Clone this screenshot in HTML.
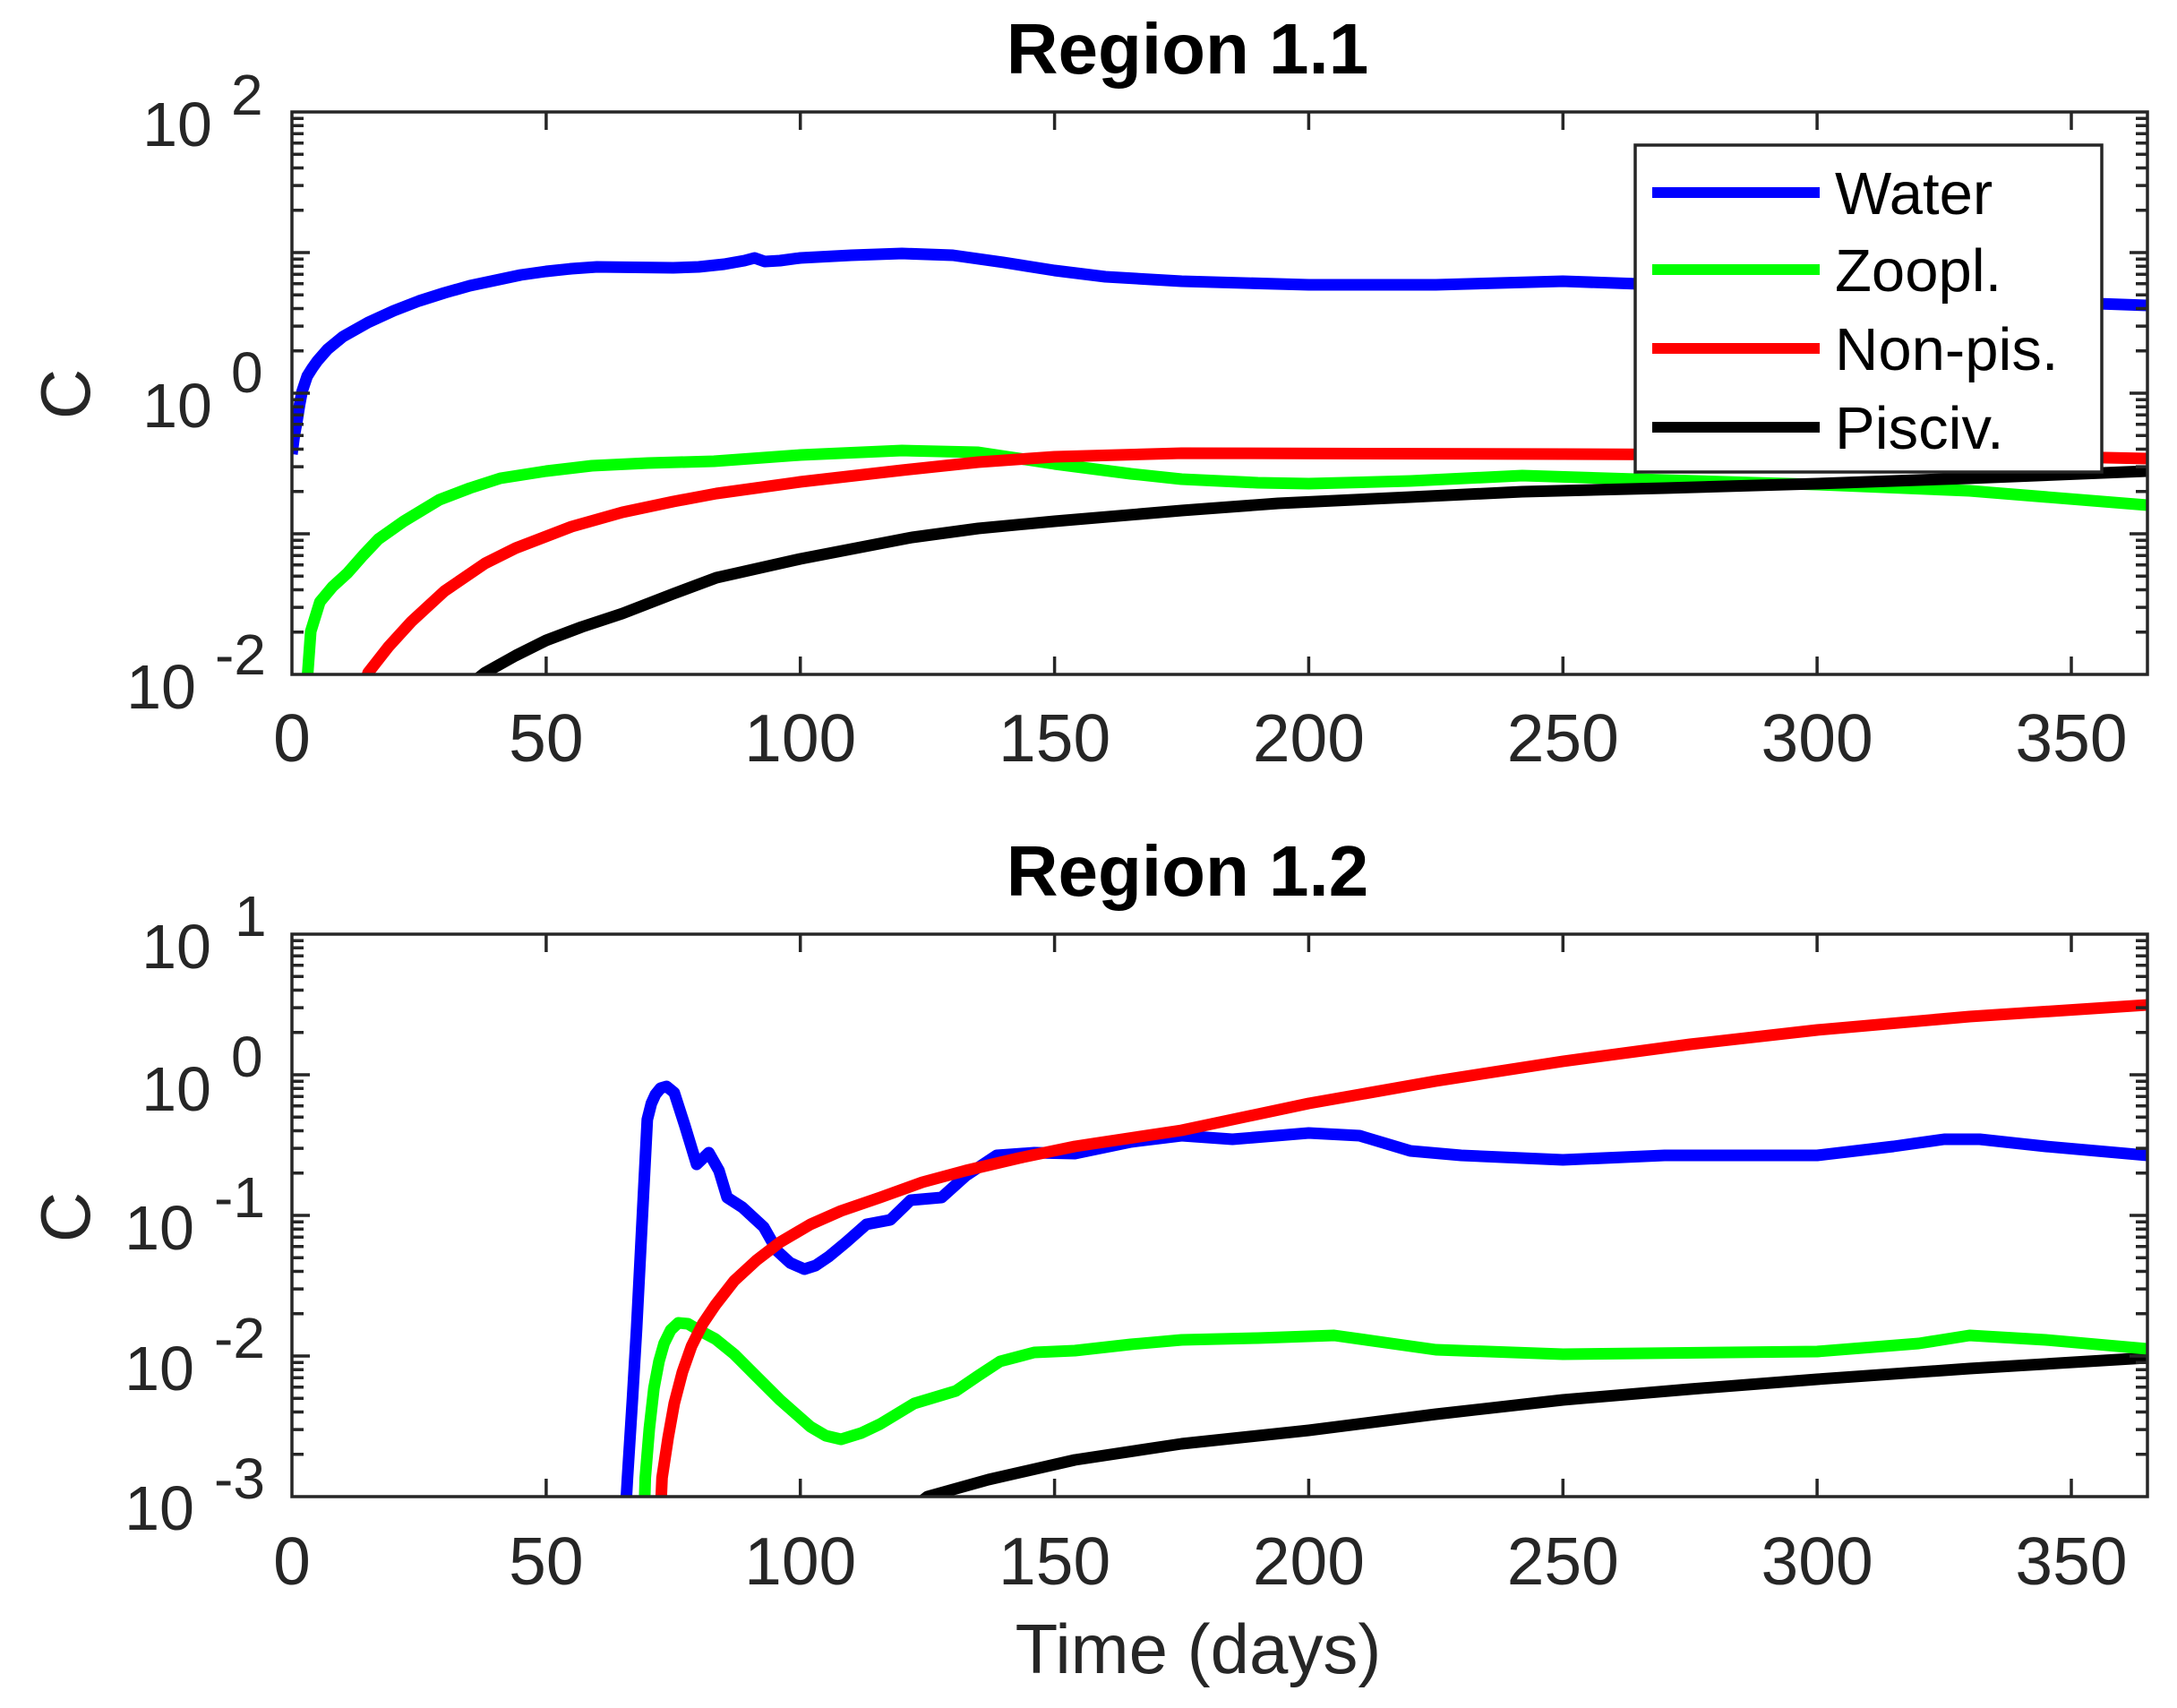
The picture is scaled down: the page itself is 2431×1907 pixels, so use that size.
<!DOCTYPE html>
<html><head><meta charset="utf-8"><style>html,body{margin:0;padding:0;background:#fff}svg{display:block}</style></head>
<body>
<svg width="2431" height="1907" viewBox="0 0 2431 1907" xmlns="http://www.w3.org/2000/svg" font-family="'Liberation Sans', sans-serif">
<defs>
<clipPath id="c1"><rect x="326" y="125" width="2072" height="628"/></clipPath>
<clipPath id="c2"><rect x="326" y="1043" width="2072" height="628"/></clipPath>
<path id="mn" d="M326 -47.3h13M326 -74.9h13M326 -94.5h13M326 -109.7h13M326 -122.2h13M326 -132.7h13M326 -141.8h13M326 -149.8h13M2398 -47.3h-13M2398 -74.9h-13M2398 -94.5h-13M2398 -109.7h-13M2398 -122.2h-13M2398 -132.7h-13M2398 -141.8h-13M2398 -149.8h-13" stroke="#262626" stroke-width="3.5" fill="none"/>
</defs>
<rect width="2431" height="1907" fill="#fff"/>

<!-- ===== Top panel ===== -->
<g clip-path="url(#c1)" fill="none" stroke-linejoin="round" stroke-linecap="butt">
<g transform="matrix(5.677,0,0,1,326,0)">
<polyline vector-effect="non-scaling-stroke" stroke="#00ff00" stroke-width="13" points="3,760 3.7,705 5.5,672 8,655 10.9,640 14,620 17,602 22,582 29,558 35,545 41,534 50,526 59,520 70,517 83,515 100,508 120,503 135,505 150,518 165,529 175,535 190,539 200,540 220,537 242,531 270,536 300,541 330,548 365,564"/>
<polyline vector-effect="non-scaling-stroke" stroke="#ff0000" stroke-width="13" points="14.5,760 15,751 19,722 23.5,694 30,660 38,629 44,612 49.5,600 55,588 65,572 75,560 83.5,551 100,538 120,525 135,516 150,510 175,506 250,507 300,508 340,509 365,512"/>
<polyline vector-effect="non-scaling-stroke" stroke="#000000" stroke-width="13" points="36,760 38,751 44,732 50,715 57,700 65,685 75,663 83.5,645 100,624 122,600 135,590 150,582 175,570 194,562 220,555 242,549 270,545 300,540 330,534 365,526"/>
<polyline vector-effect="non-scaling-stroke" stroke="#0000ff" stroke-width="13" points="0,507 0.5,485 1,470 1.5,452 2,437 3,420 4,411 5,403 7,390 10,376 15,360 20,347 25,336 30,327 35,319 40,313 45,307 50,303 55,300 60,298 75,299 80,298 85,295 89,291 91,288 93,292 96,291 100,288 110,285 120,283 130,285 140,293 150,302 160,309 175,314 200,318 225,318 250,314 270,318 300,328 330,334 365,341"/>
</g>
</g>
<g stroke="#262626" stroke-width="3.5" fill="none">
<rect x="326" y="125" width="2072" height="628"/>
<path d="M609.9 753v-20M893.7 753v-20M1177.6 753v-20M1461.4 753v-20M1745.3 753v-20M2029.1 753v-20M2313 753v-20M609.9 125v20M893.7 125v20M1177.6 125v20M1461.4 125v20M1745.3 125v20M2029.1 125v20M2313 125v20M326 596h20M326 439h20M326 282h20M2398 596h-20M2398 439h-20M2398 282h-20"/>
</g>
<use href="#mn" transform="translate(0,753)"/>
<use href="#mn" transform="translate(0,596)"/>
<use href="#mn" transform="translate(0,439)"/>
<use href="#mn" transform="translate(0,282)"/>
<g fill="#262626" font-size="75" text-anchor="middle">
<text x="326" y="850">0</text><text x="609.9" y="850">50</text><text x="893.7" y="850">100</text><text x="1177.6" y="850">150</text><text x="1461.4" y="850">200</text><text x="1745.3" y="850">250</text><text x="2029.1" y="850">300</text><text x="2313" y="850">350</text>
</g>
<g fill="#262626" font-size="70">
<text x="237" y="163" text-anchor="end">10</text><text x="258" y="128" font-size="64">2</text>
<text x="237" y="477" text-anchor="end">10</text><text x="258" y="438" font-size="64">0</text>
<text x="219" y="791" text-anchor="end">10</text><text x="240" y="753" font-size="64">-2</text>
</g>
<text transform="translate(100,440) rotate(-90)" text-anchor="middle" font-size="78" fill="#262626">C</text>
<text x="1326" y="82" text-anchor="middle" font-size="80" font-weight="bold" fill="#000">Region 1.1</text>

<!-- legend -->
<rect x="1826" y="162" width="521" height="365" fill="#fff" stroke="#262626" stroke-width="3.5"/>
<g stroke-width="12">
<line x1="1845" y1="215" x2="2032" y2="215" stroke="#0000ff"/>
<line x1="1845" y1="301" x2="2032" y2="301" stroke="#00ff00"/>
<line x1="1845" y1="389" x2="2032" y2="389" stroke="#ff0000"/>
<line x1="1845" y1="477" x2="2032" y2="477" stroke="#000000"/>
</g>
<g font-size="67" fill="#000">
<text x="2049" y="239">Water</text>
<text x="2049" y="325">Zoopl.</text>
<text x="2049" y="413">Non-pis.</text>
<text x="2049" y="501">Pisciv.</text>
</g>

<!-- ===== Bottom panel ===== -->
<g clip-path="url(#c2)" fill="none" stroke-linejoin="round">
<g transform="matrix(5.677,0,0,1,326,0)">
<polyline vector-effect="non-scaling-stroke" stroke="#000000" stroke-width="13" points="123,1680 125,1671 137,1652 154,1630 175,1612 200,1597 225,1579 250,1563 275,1551 300,1540 330,1528 365,1516"/>
<polyline vector-effect="non-scaling-stroke" stroke="#00ff00" stroke-width="13" points="69.3,1690 69.5,1650 70.3,1595 71.2,1550 72.2,1520 73.2,1500 74.5,1485 76,1477 77.9,1478 80,1485 83.3,1495 87,1512 91.4,1537 96,1563 102,1593 105,1603 108,1607 112,1600 115.7,1590 122.4,1567 130.6,1553 135,1536 139.3,1520 146,1510 154,1508 165,1501 175,1496 190,1494 205,1491 215,1499 225,1507 250,1512 300,1509 320,1500 330,1491 345,1496 365,1506"/>
<polyline vector-effect="non-scaling-stroke" stroke="#0000ff" stroke-width="13" points="65.6,1690 66,1650 67,1560 67.8,1483 69,1350 69.9,1250 70.7,1232 71.5,1222 72.5,1215 73.7,1213 75.2,1220 77.3,1257 79.6,1300 82,1287 84,1307 85.6,1337 88.6,1348 92.8,1370 95.5,1397 98,1410 100.8,1417 103,1413 105.6,1403 109,1387 113,1367 117.7,1362 121.7,1340 127.8,1337 132.5,1313 138.6,1290 146,1287 154,1288 165,1275 175,1268 185,1272 200,1265 210,1268 220,1285 230,1290 250,1295 270,1290 300,1290 315,1280 325,1272 332,1272 345,1280 365,1290"/>
<polyline vector-effect="non-scaling-stroke" stroke="#ff0000" stroke-width="13" points="72.5,1690 72.8,1650 74,1605 75.2,1567 76.8,1532 78.6,1503 80.8,1478 83.3,1457 87,1430 91.4,1407 96,1387 102,1367 108,1352 115.7,1337 124,1320 132.5,1307 143,1293 154,1280 175,1262 200,1232 225,1207 250,1185 275,1166 300,1150 330,1135 365,1122"/>
</g>
</g>
<g stroke="#262626" stroke-width="3.5" fill="none">
<rect x="326" y="1043" width="2072" height="628"/>
<path d="M609.9 1671v-20M893.7 1671v-20M1177.6 1671v-20M1461.4 1671v-20M1745.3 1671v-20M2029.1 1671v-20M2313 1671v-20M609.9 1043v20M893.7 1043v20M1177.6 1043v20M1461.4 1043v20M1745.3 1043v20M2029.1 1043v20M2313 1043v20M326 1514h20M326 1357h20M326 1200h20M2398 1514h-20M2398 1357h-20M2398 1200h-20"/>
</g>
<use href="#mn" transform="translate(0,1671)"/>
<use href="#mn" transform="translate(0,1514)"/>
<use href="#mn" transform="translate(0,1357)"/>
<use href="#mn" transform="translate(0,1200)"/>
<g fill="#262626" font-size="75" text-anchor="middle">
<text x="326" y="1769">0</text><text x="609.9" y="1769">50</text><text x="893.7" y="1769">100</text><text x="1177.6" y="1769">150</text><text x="1461.4" y="1769">200</text><text x="1745.3" y="1769">250</text><text x="2029.1" y="1769">300</text><text x="2313" y="1769">350</text>
</g>
<g fill="#262626" font-size="70">
<text x="236" y="1081" text-anchor="end">10</text><text x="262" y="1045" font-size="64">1</text>
<text x="236" y="1240" text-anchor="end">10</text><text x="258" y="1202" font-size="64">0</text>
<text x="217" y="1395" text-anchor="end">10</text><text x="239" y="1359" font-size="64">-1</text>
<text x="217" y="1552" text-anchor="end">10</text><text x="239" y="1516" font-size="64">-2</text>
<text x="217" y="1708" text-anchor="end">10</text><text x="239" y="1673" font-size="64">-3</text>
</g>
<text transform="translate(100,1359) rotate(-90)" text-anchor="middle" font-size="78" fill="#262626">C</text>
<text x="1326" y="1000" text-anchor="middle" font-size="80" font-weight="bold" fill="#000">Region 1.2</text>
<text x="1338" y="1868" text-anchor="middle" font-size="78" fill="#262626">Time (days)</text>
</svg>
</body></html>
